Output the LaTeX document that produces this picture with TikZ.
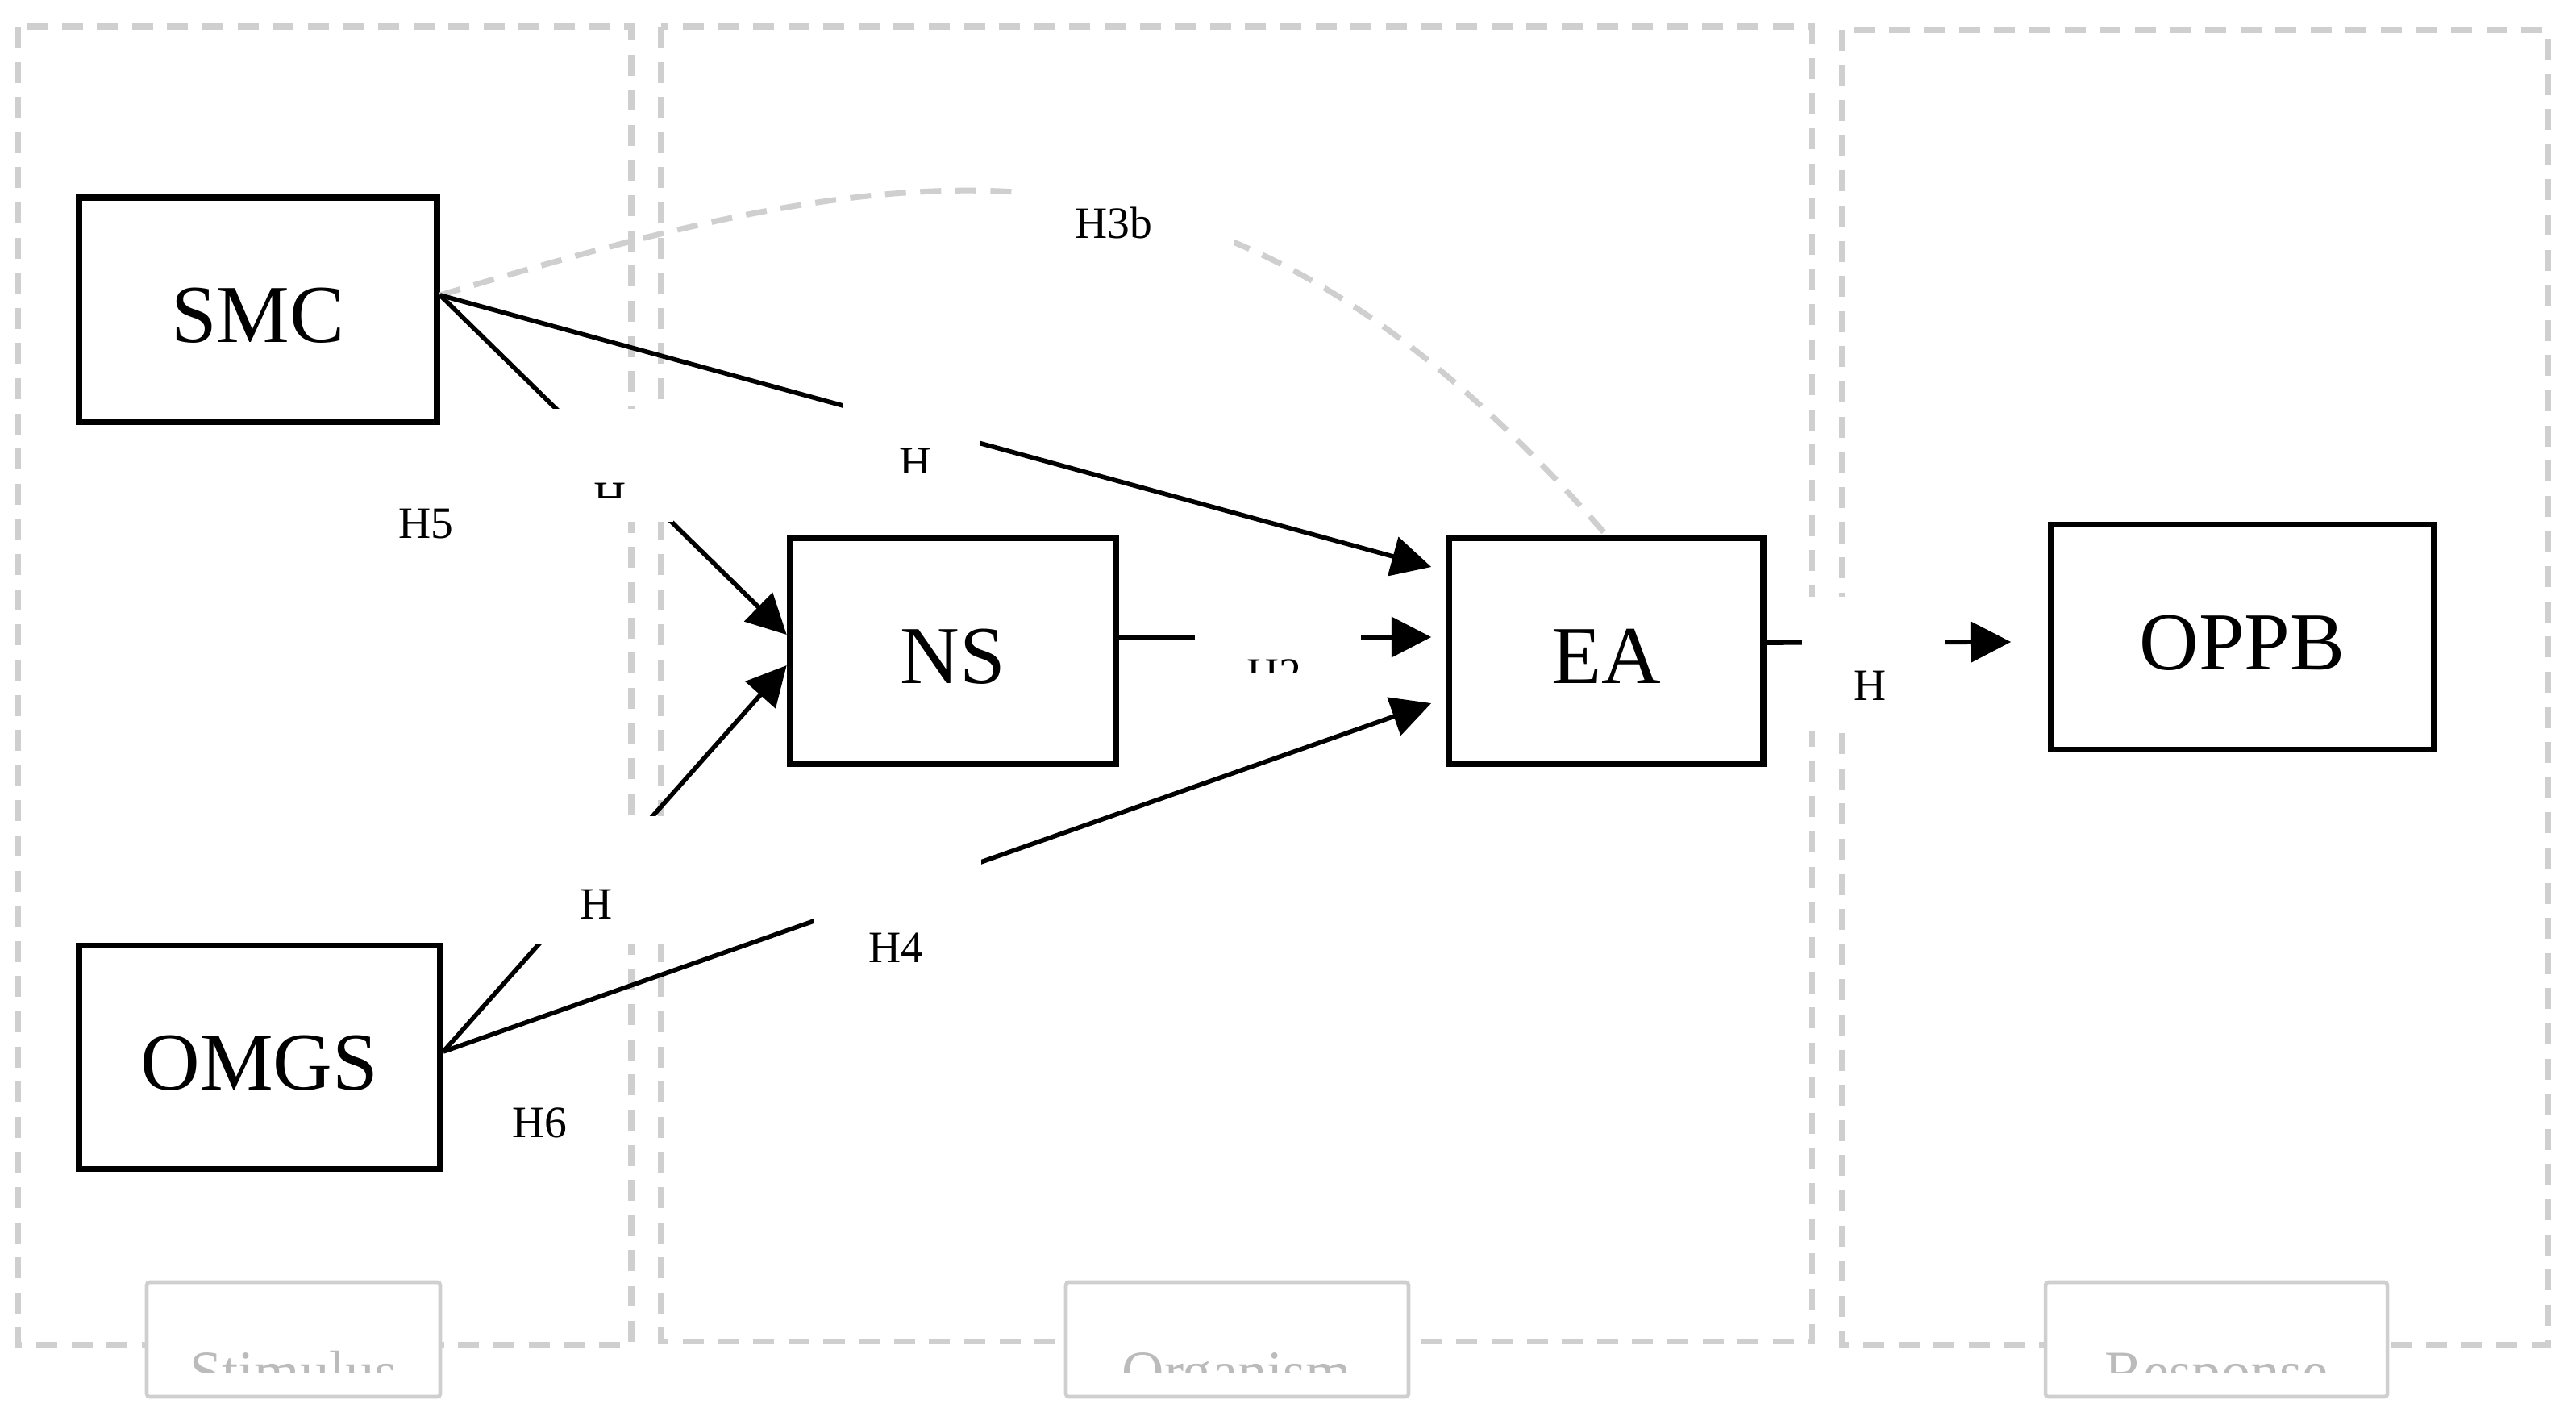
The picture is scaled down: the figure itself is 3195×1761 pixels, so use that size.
\documentclass[tikz,border=0pt]{standalone}
\usepackage{fontspec}
\setmainfont{Liberation Serif}
\usetikzlibrary{arrows.meta,calc}
\definecolor{grp}{HTML}{CFCFCF}
\definecolor{grptext}{HTML}{BBBBBB}
\begin{document}
\begin{tikzpicture}[x=0.01cm,y=-0.01cm,
  mainbox/.style={draw=black,line width=2.1pt,fill=white,inner sep=0pt,
    font=\fontsize{29}{34}\selectfont,text height=23.2pt,text depth=0pt},
  grpbox/.style={draw=grp,line width=2pt,dash pattern=on 7.4pt off 5pt},
  conn/.style={draw=black,line width=1.6pt,-{Triangle[length=14pt,width=14pt]}},
  lbltext/.style={font=\fontsize{15.8}{18}\selectfont,inner sep=0pt,anchor=base},
  grplabel/.style={draw=grp,line width=1.3pt,fill=white,rounded corners=1pt},
  grptxt/.style={font=\fontsize{20.6}{24}\selectfont,inner sep=0pt,anchor=base,text=grptext}]
\useasboundingbox (0,0) rectangle (3195,1761);
\fill[white] (0,0) rectangle (3195,1761);

% group frames
\draw[grpbox] (22,33) rectangle (783,1667);
\draw[grpbox] (820,33) rectangle (2247,1663);
\draw[grpbox] (2284,37) rectangle (3160,1667);

% main nodes (placed first so connectors can refer to them)
\node[mainbox,minimum width=4.44cm,minimum height=2.78cm] (SMC) at (320,384) {SMC};
\node[mainbox,minimum width=4.48cm,minimum height=2.77cm] (OMGS) at (322,1311) {OMGS};
\node[mainbox,minimum width=4.05cm,minimum height=2.80cm] (NS) at (1182,807) {NS};
\node[mainbox,minimum width=3.90cm,minimum height=2.80cm] (EA) at (1992,807) {EA};
\node[mainbox,minimum width=4.74cm,minimum height=2.79cm] (OPPB) at (2781,790) {OPPB};

\coordinate (smcout) at ($(SMC.east)+(0,-18)$);
\coordinate (omgsout) at ($(OMGS.east)+(0,-7)$);
\coordinate (nsin1) at ($(NS.west)+(0,-20)$);
\coordinate (nsin2) at ($(NS.west)+(0,18)$);
\coordinate (eain1) at ($(EA.west)+(-18,-104)$);
\coordinate (eain2) at ($(EA.west)+(-18,-17)$);
\coordinate (eain3) at ($(EA.west)+(-18,65)$);
\coordinate (eaout) at ($(EA.east)+(0,-10)$);
\coordinate (oppbin) at ($(OPPB.west)+(-46,6)$);

% H3b dashed curve
\draw[draw=grp,line width=2pt,dash pattern=on 7.4pt off 5pt]
  (smcout) .. controls (1146,186) and (1520,120) .. (EA.north);

% connectors
\draw[conn] (smcout) -- (nsin1);
\draw[conn] (smcout) -- (eain1);
\draw[conn] (omgsout) -- (nsin2);
\draw[conn] (omgsout) -- (eain3);
\draw[conn] (NS.east |- eain2) -- (eain2);
\draw[conn] (eaout) -- (oppbin);

% labels with white backgrounds
\fill[white] (1258,166) rectangle (1530,326);
\node[lbltext] (lH3b) at (1381,296) {H3b};

\fill[white] (680,507) rectangle (835,647);
\begin{scope}
  \clip (680,507) rectangle (835,616);
  \node[lbltext] (lH1) at (757,635) {H};
\end{scope}

\fill[white] (1046,464) rectangle (1216,624);
\begin{scope}
  \clip (1046,464) rectangle (1216,586);
  \node[lbltext] (lH2) at (1136,592) {H};
\end{scope}

\fill[white] (660,1012) rectangle (830,1170);
\node[lbltext] (lH3) at (740,1139) {H};

\fill[white] (1010,1065) rectangle (1217,1225);
\node[lbltext] (lH4) at (1111,1193) {H4};

\fill[white] (1482,726) rectangle (1688,886);
\begin{scope}
  \clip (1482,726) rectangle (1688,833);
  \node[lbltext] (lH2b) at (1580,854) {H2};
\end{scope}

\fill[white] (2235,740) rectangle (2412,906);
\node[lbltext] (lH7) at (2320,868) {H};

\node[lbltext] (lH5) at (528,667) {H5};
\node[lbltext] (lH6) at (669,1410) {H6};

% group captions
\draw[grplabel] (182,1590) rectangle (546,1732);
\draw[grplabel] (1322,1590) rectangle (1747,1732);
\draw[grplabel] (2537,1590) rectangle (2961,1732);
\begin{scope}
  \clip (0,1590) rectangle (3195,1701);
  \node[grptxt] (tStim) at (364,1725) {Stimulus};
  \node[grptxt] (tOrg) at (1534,1725) {Organism};
  \node[grptxt] (tResp) at (2749,1725) {Response};
\end{scope}
\end{tikzpicture}
\end{document}
